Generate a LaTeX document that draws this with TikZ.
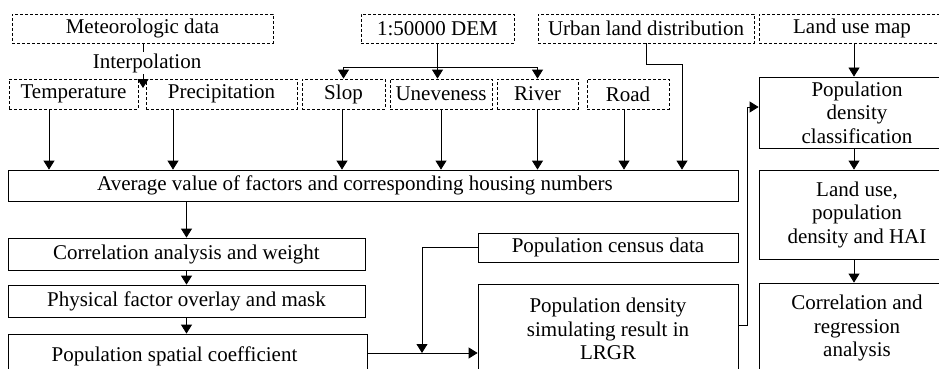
\documentclass[tikz,border=0pt]{standalone}
\usepackage{fontspec}
\setmainfont{Liberation Serif}
\usetikzlibrary{arrows.meta}
\begin{document}
\begin{tikzpicture}[x=1pt,y=-1pt,
  every node/.style={font=\fontsize{21}{23.5}\selectfont, inner sep=0pt, text=black},
  box/.style={draw, line width=0.8pt},
  dbox/.style={draw, line width=0.8pt, dash pattern=on 3pt off 2pt},
  ml/.style={align=center},
  arr/.style={line width=0.8pt, -{Triangle[length=9pt,width=11pt]}},
  ln/.style={line width=0.8pt}]
\useasboundingbox (0,0) rectangle (939,369);
\clip (0,0) rectangle (939,369);
% top row
\node[dbox, minimum width=261pt, minimum height=29pt] (meteo) at (142.5,28.5) {Meteorologic data};
\node[dbox, minimum width=153pt, minimum height=29pt] (dem) at (437.5,28.5) {1:50000 DEM};
\node[dbox, minimum width=216pt, minimum height=29pt] (urban) at (646,28.5) {Urban land distribution};
\node[dbox, minimum width=186pt, minimum height=29pt] (landmap) at (852,28.5) {Land use map};
% second row
\node[dbox, minimum width=129pt, minimum height=30pt] (temp) at (73.5,94) {Temperature};
\node[dbox, minimum width=151pt, minimum height=30pt] (precip) at (221.5,94) {Precipitation};
\node[dbox, minimum width=83pt, minimum height=30pt] (slop) at (343.5,94) {Slop};
\node[dbox, minimum width=102pt, minimum height=30pt] (unev) at (441,94) {Uneveness};
\node[dbox, minimum width=81pt, minimum height=30pt] (river) at (537.5,94) {River};
\node[dbox, minimum width=82pt, minimum height=30pt] (road) at (628,94) {Road};
% big box
\node[box, minimum width=730pt, minimum height=31pt] (big) at (373,185.5) {\hspace*{-36pt}Average value of factors and corresponding housing numbers};
% left column
\node[box, minimum width=357pt, minimum height=32pt] (corr) at (186.5,254) {Correlation analysis and weight};
\node[box, minimum width=357pt, minimum height=32pt] (phys) at (186.5,301) {Physical factor overlay and mask};
\node[box, minimum width=359pt, minimum height=44pt] (psc) at (187.5,356) {\hspace*{-26pt}Population spatial coefficient};
% middle column
\node[box, minimum width=260pt, minimum height=29pt] (census) at (608,247.5) {Population census data};
\node[box, ml, minimum width=260pt, minimum height=90pt] (sim) at (608,329) {Population density\\simulating result in\\LRGR};
% right column
\node[box, ml, minimum width=196pt, minimum height=71pt] (pdc) at (857,112.5) {Population\\density\\classification};
\node[box, ml, minimum width=196pt, minimum height=89pt] (lu) at (857,214.5) {Land use,\\population\\density and HAI};
\node[box, ml, minimum width=196pt, minimum height=90pt] (cra) at (857,328) {Correlation and\\regression\\analysis};
% interpolation
\coordinate (ip) at (143,88);
\draw[arr] (meteo.south -| ip) -- (ip);
\node[fill=white, inner sep=1pt] (interp) at (147,63) {Interpolation};
% DEM splits
\coordinate (j) at (437.5,67);
\draw[arr] (dem.south) -- (dem.south |- unev.north);
\draw[arr] (j) -| (slop.north);
\draw[arr] (j) -| (river.north);
% to big box
\draw[arr] ([xshift=-24.5pt]temp.south) -- ([xshift=-24.5pt]temp.south |- big.north);
\draw[arr] ([xshift=-48.5pt]precip.south) -- ([xshift=-48.5pt]precip.south |- big.north);
\draw[arr] ([xshift=-1.5pt]slop.south) -- ([xshift=-1.5pt]slop.south |- big.north);
\draw[arr] (unev.south) -- (unev.south |- big.north);
\draw[arr] (river.south) -- (river.south |- big.north);
\draw[arr] ([xshift=-4pt]road.south) -- ([xshift=-4pt]road.south |- big.north);
\coordinate (ut) at (682,64);
\draw[arr] (urban.south) |- (ut) -- (ut |- big.north);
% left chain
\draw[arr] (big.south -| corr.north) -- (corr.north);
\draw[arr] (corr.south) -- (phys.north);
\draw[arr] (phys.south -| corr.south) -- (psc.north -| corr.south);
\draw[arr] ([yshift=3pt]psc.east) -- ([yshift=3pt]psc.east -| sim.west);
\coordinate (m) at (422,353);
\draw[arr] (census.west) -| (m);
% to right column
\coordinate (k) at (747,107);
\draw[arr] ([yshift=4pt]sim.east) -| (k) -- (k -| pdc.west);
\draw[arr] (landmap.south -| 854,0) -- (pdc.north -| 854,0);
\draw[arr] (pdc.south -| 854,0) -- (lu.north -| 854,0);
\draw[arr] (lu.south -| 854,0) -- (cra.north -| 854,0);
\end{tikzpicture}
\end{document}
